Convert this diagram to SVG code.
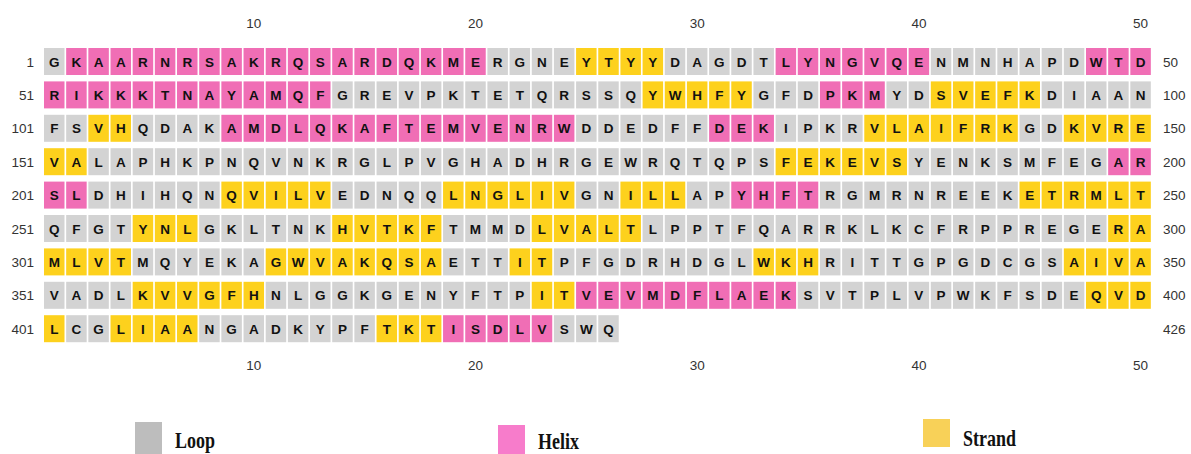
<svg xmlns="http://www.w3.org/2000/svg" width="1191" height="454" viewBox="0 0 1191 454">
<style>
.L rect{fill:#d3d3d3}.H rect{fill:#f06eb5}.E rect{fill:#fdd11d}
#grid text{font-family:"Liberation Sans",Arial,sans-serif;font-weight:bold;font-size:13.5px;fill:#111;text-anchor:middle}
.num{font-family:"Liberation Sans",Arial,sans-serif;font-size:13.5px;fill:#333;font-weight:normal}
.ln{text-anchor:end}.cn{text-anchor:middle}
.lg{font-family:"Liberation Serif","Times New Roman",serif;font-weight:bold;font-size:18px;fill:#111;text-anchor:start}
</style>
<rect width="1191" height="454" fill="#fff"/>
<g id="grid">
<g id="r1" class="L" transform="translate(44,48)"><rect width="20.5" height="27"/><text x="10.25" y="18.5">G</text></g>
<g id="r2" class="H" transform="translate(66.17,48)"><rect width="20.5" height="27"/><text x="10.25" y="18.5">K</text></g>
<g id="r3" class="H" transform="translate(88.34,48)"><rect width="20.5" height="27"/><text x="10.25" y="18.5">A</text></g>
<g id="r4" class="H" transform="translate(110.51,48)"><rect width="20.5" height="27"/><text x="10.25" y="18.5">A</text></g>
<g id="r5" class="H" transform="translate(132.68,48)"><rect width="20.5" height="27"/><text x="10.25" y="18.5">R</text></g>
<g id="r6" class="H" transform="translate(154.85,48)"><rect width="20.5" height="27"/><text x="10.25" y="18.5">N</text></g>
<g id="r7" class="H" transform="translate(177.02,48)"><rect width="20.5" height="27"/><text x="10.25" y="18.5">R</text></g>
<g id="r8" class="H" transform="translate(199.19,48)"><rect width="20.5" height="27"/><text x="10.25" y="18.5">S</text></g>
<g id="r9" class="H" transform="translate(221.36,48)"><rect width="20.5" height="27"/><text x="10.25" y="18.5">A</text></g>
<g id="r10" class="H" transform="translate(243.53,48)"><rect width="20.5" height="27"/><text x="10.25" y="18.5">K</text></g>
<g id="r11" class="H" transform="translate(265.7,48)"><rect width="20.5" height="27"/><text x="10.25" y="18.5">R</text></g>
<g id="r12" class="H" transform="translate(287.87,48)"><rect width="20.5" height="27"/><text x="10.25" y="18.5">Q</text></g>
<g id="r13" class="H" transform="translate(310.04,48)"><rect width="20.5" height="27"/><text x="10.25" y="18.5">S</text></g>
<g id="r14" class="H" transform="translate(332.21,48)"><rect width="20.5" height="27"/><text x="10.25" y="18.5">A</text></g>
<g id="r15" class="H" transform="translate(354.38,48)"><rect width="20.5" height="27"/><text x="10.25" y="18.5">R</text></g>
<g id="r16" class="H" transform="translate(376.55,48)"><rect width="20.5" height="27"/><text x="10.25" y="18.5">D</text></g>
<g id="r17" class="H" transform="translate(398.72,48)"><rect width="20.5" height="27"/><text x="10.25" y="18.5">Q</text></g>
<g id="r18" class="H" transform="translate(420.89,48)"><rect width="20.5" height="27"/><text x="10.25" y="18.5">K</text></g>
<g id="r19" class="H" transform="translate(443.06,48)"><rect width="20.5" height="27"/><text x="10.25" y="18.5">M</text></g>
<g id="r20" class="H" transform="translate(465.23,48)"><rect width="20.5" height="27"/><text x="10.25" y="18.5">E</text></g>
<g id="r21" class="L" transform="translate(487.4,48)"><rect width="20.5" height="27"/><text x="10.25" y="18.5">R</text></g>
<g id="r22" class="L" transform="translate(509.57,48)"><rect width="20.5" height="27"/><text x="10.25" y="18.5">G</text></g>
<g id="r23" class="L" transform="translate(531.74,48)"><rect width="20.5" height="27"/><text x="10.25" y="18.5">N</text></g>
<g id="r24" class="L" transform="translate(553.91,48)"><rect width="20.5" height="27"/><text x="10.25" y="18.5">E</text></g>
<g id="r25" class="E" transform="translate(576.08,48)"><rect width="20.5" height="27"/><text x="10.25" y="18.5">Y</text></g>
<g id="r26" class="E" transform="translate(598.25,48)"><rect width="20.5" height="27"/><text x="10.25" y="18.5">T</text></g>
<g id="r27" class="E" transform="translate(620.42,48)"><rect width="20.5" height="27"/><text x="10.25" y="18.5">Y</text></g>
<g id="r28" class="E" transform="translate(642.59,48)"><rect width="20.5" height="27"/><text x="10.25" y="18.5">Y</text></g>
<g id="r29" class="L" transform="translate(664.76,48)"><rect width="20.5" height="27"/><text x="10.25" y="18.5">D</text></g>
<g id="r30" class="L" transform="translate(686.93,48)"><rect width="20.5" height="27"/><text x="10.25" y="18.5">A</text></g>
<g id="r31" class="L" transform="translate(709.1,48)"><rect width="20.5" height="27"/><text x="10.25" y="18.5">G</text></g>
<g id="r32" class="L" transform="translate(731.27,48)"><rect width="20.5" height="27"/><text x="10.25" y="18.5">D</text></g>
<g id="r33" class="L" transform="translate(753.44,48)"><rect width="20.5" height="27"/><text x="10.25" y="18.5">T</text></g>
<g id="r34" class="H" transform="translate(775.61,48)"><rect width="20.5" height="27"/><text x="10.25" y="18.5">L</text></g>
<g id="r35" class="H" transform="translate(797.78,48)"><rect width="20.5" height="27"/><text x="10.25" y="18.5">Y</text></g>
<g id="r36" class="H" transform="translate(819.95,48)"><rect width="20.5" height="27"/><text x="10.25" y="18.5">N</text></g>
<g id="r37" class="H" transform="translate(842.12,48)"><rect width="20.5" height="27"/><text x="10.25" y="18.5">G</text></g>
<g id="r38" class="H" transform="translate(864.29,48)"><rect width="20.5" height="27"/><text x="10.25" y="18.5">V</text></g>
<g id="r39" class="H" transform="translate(886.46,48)"><rect width="20.5" height="27"/><text x="10.25" y="18.5">Q</text></g>
<g id="r40" class="H" transform="translate(908.63,48)"><rect width="20.5" height="27"/><text x="10.25" y="18.5">E</text></g>
<g id="r41" class="L" transform="translate(930.8,48)"><rect width="20.5" height="27"/><text x="10.25" y="18.5">N</text></g>
<g id="r42" class="L" transform="translate(952.97,48)"><rect width="20.5" height="27"/><text x="10.25" y="18.5">M</text></g>
<g id="r43" class="L" transform="translate(975.14,48)"><rect width="20.5" height="27"/><text x="10.25" y="18.5">N</text></g>
<g id="r44" class="L" transform="translate(997.31,48)"><rect width="20.5" height="27"/><text x="10.25" y="18.5">H</text></g>
<g id="r45" class="L" transform="translate(1019.48,48)"><rect width="20.5" height="27"/><text x="10.25" y="18.5">A</text></g>
<g id="r46" class="L" transform="translate(1041.65,48)"><rect width="20.5" height="27"/><text x="10.25" y="18.5">P</text></g>
<g id="r47" class="L" transform="translate(1063.82,48)"><rect width="20.5" height="27"/><text x="10.25" y="18.5">D</text></g>
<g id="r48" class="H" transform="translate(1085.99,48)"><rect width="20.5" height="27"/><text x="10.25" y="18.5">W</text></g>
<g id="r49" class="H" transform="translate(1108.16,48)"><rect width="20.5" height="27"/><text x="10.25" y="18.5">T</text></g>
<g id="r50" class="H" transform="translate(1130.33,48)"><rect width="20.5" height="27"/><text x="10.25" y="18.5">D</text></g>

<g id="r51" class="H" transform="translate(44,81.4)"><rect width="20.5" height="27"/><text x="10.25" y="18.5">R</text></g>
<g id="r52" class="H" transform="translate(66.17,81.4)"><rect width="20.5" height="27"/><text x="10.25" y="18.5">I</text></g>
<g id="r53" class="H" transform="translate(88.34,81.4)"><rect width="20.5" height="27"/><text x="10.25" y="18.5">K</text></g>
<g id="r54" class="H" transform="translate(110.51,81.4)"><rect width="20.5" height="27"/><text x="10.25" y="18.5">K</text></g>
<g id="r55" class="H" transform="translate(132.68,81.4)"><rect width="20.5" height="27"/><text x="10.25" y="18.5">K</text></g>
<g id="r56" class="H" transform="translate(154.85,81.4)"><rect width="20.5" height="27"/><text x="10.25" y="18.5">T</text></g>
<g id="r57" class="H" transform="translate(177.02,81.4)"><rect width="20.5" height="27"/><text x="10.25" y="18.5">N</text></g>
<g id="r58" class="H" transform="translate(199.19,81.4)"><rect width="20.5" height="27"/><text x="10.25" y="18.5">A</text></g>
<g id="r59" class="H" transform="translate(221.36,81.4)"><rect width="20.5" height="27"/><text x="10.25" y="18.5">Y</text></g>
<g id="r60" class="H" transform="translate(243.53,81.4)"><rect width="20.5" height="27"/><text x="10.25" y="18.5">A</text></g>
<g id="r61" class="H" transform="translate(265.7,81.4)"><rect width="20.5" height="27"/><text x="10.25" y="18.5">M</text></g>
<g id="r62" class="H" transform="translate(287.87,81.4)"><rect width="20.5" height="27"/><text x="10.25" y="18.5">Q</text></g>
<g id="r63" class="H" transform="translate(310.04,81.4)"><rect width="20.5" height="27"/><text x="10.25" y="18.5">F</text></g>
<g id="r64" class="L" transform="translate(332.21,81.4)"><rect width="20.5" height="27"/><text x="10.25" y="18.5">G</text></g>
<g id="r65" class="L" transform="translate(354.38,81.4)"><rect width="20.5" height="27"/><text x="10.25" y="18.5">R</text></g>
<g id="r66" class="L" transform="translate(376.55,81.4)"><rect width="20.5" height="27"/><text x="10.25" y="18.5">E</text></g>
<g id="r67" class="L" transform="translate(398.72,81.4)"><rect width="20.5" height="27"/><text x="10.25" y="18.5">V</text></g>
<g id="r68" class="L" transform="translate(420.89,81.4)"><rect width="20.5" height="27"/><text x="10.25" y="18.5">P</text></g>
<g id="r69" class="L" transform="translate(443.06,81.4)"><rect width="20.5" height="27"/><text x="10.25" y="18.5">K</text></g>
<g id="r70" class="L" transform="translate(465.23,81.4)"><rect width="20.5" height="27"/><text x="10.25" y="18.5">T</text></g>
<g id="r71" class="L" transform="translate(487.4,81.4)"><rect width="20.5" height="27"/><text x="10.25" y="18.5">E</text></g>
<g id="r72" class="L" transform="translate(509.57,81.4)"><rect width="20.5" height="27"/><text x="10.25" y="18.5">T</text></g>
<g id="r73" class="L" transform="translate(531.74,81.4)"><rect width="20.5" height="27"/><text x="10.25" y="18.5">Q</text></g>
<g id="r74" class="L" transform="translate(553.91,81.4)"><rect width="20.5" height="27"/><text x="10.25" y="18.5">R</text></g>
<g id="r75" class="L" transform="translate(576.08,81.4)"><rect width="20.5" height="27"/><text x="10.25" y="18.5">S</text></g>
<g id="r76" class="L" transform="translate(598.25,81.4)"><rect width="20.5" height="27"/><text x="10.25" y="18.5">S</text></g>
<g id="r77" class="L" transform="translate(620.42,81.4)"><rect width="20.5" height="27"/><text x="10.25" y="18.5">Q</text></g>
<g id="r78" class="E" transform="translate(642.59,81.4)"><rect width="20.5" height="27"/><text x="10.25" y="18.5">Y</text></g>
<g id="r79" class="E" transform="translate(664.76,81.4)"><rect width="20.5" height="27"/><text x="10.25" y="18.5">W</text></g>
<g id="r80" class="E" transform="translate(686.93,81.4)"><rect width="20.5" height="27"/><text x="10.25" y="18.5">H</text></g>
<g id="r81" class="E" transform="translate(709.1,81.4)"><rect width="20.5" height="27"/><text x="10.25" y="18.5">F</text></g>
<g id="r82" class="E" transform="translate(731.27,81.4)"><rect width="20.5" height="27"/><text x="10.25" y="18.5">Y</text></g>
<g id="r83" class="L" transform="translate(753.44,81.4)"><rect width="20.5" height="27"/><text x="10.25" y="18.5">G</text></g>
<g id="r84" class="L" transform="translate(775.61,81.4)"><rect width="20.5" height="27"/><text x="10.25" y="18.5">F</text></g>
<g id="r85" class="L" transform="translate(797.78,81.4)"><rect width="20.5" height="27"/><text x="10.25" y="18.5">D</text></g>
<g id="r86" class="H" transform="translate(819.95,81.4)"><rect width="20.5" height="27"/><text x="10.25" y="18.5">P</text></g>
<g id="r87" class="H" transform="translate(842.12,81.4)"><rect width="20.5" height="27"/><text x="10.25" y="18.5">K</text></g>
<g id="r88" class="H" transform="translate(864.29,81.4)"><rect width="20.5" height="27"/><text x="10.25" y="18.5">M</text></g>
<g id="r89" class="L" transform="translate(886.46,81.4)"><rect width="20.5" height="27"/><text x="10.25" y="18.5">Y</text></g>
<g id="r90" class="L" transform="translate(908.63,81.4)"><rect width="20.5" height="27"/><text x="10.25" y="18.5">D</text></g>
<g id="r91" class="E" transform="translate(930.8,81.4)"><rect width="20.5" height="27"/><text x="10.25" y="18.5">S</text></g>
<g id="r92" class="E" transform="translate(952.97,81.4)"><rect width="20.5" height="27"/><text x="10.25" y="18.5">V</text></g>
<g id="r93" class="E" transform="translate(975.14,81.4)"><rect width="20.5" height="27"/><text x="10.25" y="18.5">E</text></g>
<g id="r94" class="E" transform="translate(997.31,81.4)"><rect width="20.5" height="27"/><text x="10.25" y="18.5">F</text></g>
<g id="r95" class="E" transform="translate(1019.48,81.4)"><rect width="20.5" height="27"/><text x="10.25" y="18.5">K</text></g>
<g id="r96" class="L" transform="translate(1041.65,81.4)"><rect width="20.5" height="27"/><text x="10.25" y="18.5">D</text></g>
<g id="r97" class="L" transform="translate(1063.82,81.4)"><rect width="20.5" height="27"/><text x="10.25" y="18.5">I</text></g>
<g id="r98" class="L" transform="translate(1085.99,81.4)"><rect width="20.5" height="27"/><text x="10.25" y="18.5">A</text></g>
<g id="r99" class="L" transform="translate(1108.16,81.4)"><rect width="20.5" height="27"/><text x="10.25" y="18.5">A</text></g>
<g id="r100" class="L" transform="translate(1130.33,81.4)"><rect width="20.5" height="27"/><text x="10.25" y="18.5">N</text></g>

<g id="r101" class="L" transform="translate(44,114.8)"><rect width="20.5" height="27"/><text x="10.25" y="18.5">F</text></g>
<g id="r102" class="L" transform="translate(66.17,114.8)"><rect width="20.5" height="27"/><text x="10.25" y="18.5">S</text></g>
<g id="r103" class="E" transform="translate(88.34,114.8)"><rect width="20.5" height="27"/><text x="10.25" y="18.5">V</text></g>
<g id="r104" class="E" transform="translate(110.51,114.8)"><rect width="20.5" height="27"/><text x="10.25" y="18.5">H</text></g>
<g id="r105" class="L" transform="translate(132.68,114.8)"><rect width="20.5" height="27"/><text x="10.25" y="18.5">Q</text></g>
<g id="r106" class="L" transform="translate(154.85,114.8)"><rect width="20.5" height="27"/><text x="10.25" y="18.5">D</text></g>
<g id="r107" class="L" transform="translate(177.02,114.8)"><rect width="20.5" height="27"/><text x="10.25" y="18.5">A</text></g>
<g id="r108" class="L" transform="translate(199.19,114.8)"><rect width="20.5" height="27"/><text x="10.25" y="18.5">K</text></g>
<g id="r109" class="H" transform="translate(221.36,114.8)"><rect width="20.5" height="27"/><text x="10.25" y="18.5">A</text></g>
<g id="r110" class="H" transform="translate(243.53,114.8)"><rect width="20.5" height="27"/><text x="10.25" y="18.5">M</text></g>
<g id="r111" class="H" transform="translate(265.7,114.8)"><rect width="20.5" height="27"/><text x="10.25" y="18.5">D</text></g>
<g id="r112" class="H" transform="translate(287.87,114.8)"><rect width="20.5" height="27"/><text x="10.25" y="18.5">L</text></g>
<g id="r113" class="H" transform="translate(310.04,114.8)"><rect width="20.5" height="27"/><text x="10.25" y="18.5">Q</text></g>
<g id="r114" class="H" transform="translate(332.21,114.8)"><rect width="20.5" height="27"/><text x="10.25" y="18.5">K</text></g>
<g id="r115" class="H" transform="translate(354.38,114.8)"><rect width="20.5" height="27"/><text x="10.25" y="18.5">A</text></g>
<g id="r116" class="H" transform="translate(376.55,114.8)"><rect width="20.5" height="27"/><text x="10.25" y="18.5">F</text></g>
<g id="r117" class="H" transform="translate(398.72,114.8)"><rect width="20.5" height="27"/><text x="10.25" y="18.5">T</text></g>
<g id="r118" class="H" transform="translate(420.89,114.8)"><rect width="20.5" height="27"/><text x="10.25" y="18.5">E</text></g>
<g id="r119" class="H" transform="translate(443.06,114.8)"><rect width="20.5" height="27"/><text x="10.25" y="18.5">M</text></g>
<g id="r120" class="H" transform="translate(465.23,114.8)"><rect width="20.5" height="27"/><text x="10.25" y="18.5">V</text></g>
<g id="r121" class="H" transform="translate(487.4,114.8)"><rect width="20.5" height="27"/><text x="10.25" y="18.5">E</text></g>
<g id="r122" class="H" transform="translate(509.57,114.8)"><rect width="20.5" height="27"/><text x="10.25" y="18.5">N</text></g>
<g id="r123" class="H" transform="translate(531.74,114.8)"><rect width="20.5" height="27"/><text x="10.25" y="18.5">R</text></g>
<g id="r124" class="H" transform="translate(553.91,114.8)"><rect width="20.5" height="27"/><text x="10.25" y="18.5">W</text></g>
<g id="r125" class="L" transform="translate(576.08,114.8)"><rect width="20.5" height="27"/><text x="10.25" y="18.5">D</text></g>
<g id="r126" class="L" transform="translate(598.25,114.8)"><rect width="20.5" height="27"/><text x="10.25" y="18.5">D</text></g>
<g id="r127" class="L" transform="translate(620.42,114.8)"><rect width="20.5" height="27"/><text x="10.25" y="18.5">E</text></g>
<g id="r128" class="L" transform="translate(642.59,114.8)"><rect width="20.5" height="27"/><text x="10.25" y="18.5">D</text></g>
<g id="r129" class="L" transform="translate(664.76,114.8)"><rect width="20.5" height="27"/><text x="10.25" y="18.5">F</text></g>
<g id="r130" class="L" transform="translate(686.93,114.8)"><rect width="20.5" height="27"/><text x="10.25" y="18.5">F</text></g>
<g id="r131" class="H" transform="translate(709.1,114.8)"><rect width="20.5" height="27"/><text x="10.25" y="18.5">D</text></g>
<g id="r132" class="H" transform="translate(731.27,114.8)"><rect width="20.5" height="27"/><text x="10.25" y="18.5">E</text></g>
<g id="r133" class="H" transform="translate(753.44,114.8)"><rect width="20.5" height="27"/><text x="10.25" y="18.5">K</text></g>
<g id="r134" class="L" transform="translate(775.61,114.8)"><rect width="20.5" height="27"/><text x="10.25" y="18.5">I</text></g>
<g id="r135" class="L" transform="translate(797.78,114.8)"><rect width="20.5" height="27"/><text x="10.25" y="18.5">P</text></g>
<g id="r136" class="L" transform="translate(819.95,114.8)"><rect width="20.5" height="27"/><text x="10.25" y="18.5">K</text></g>
<g id="r137" class="L" transform="translate(842.12,114.8)"><rect width="20.5" height="27"/><text x="10.25" y="18.5">R</text></g>
<g id="r138" class="E" transform="translate(864.29,114.8)"><rect width="20.5" height="27"/><text x="10.25" y="18.5">V</text></g>
<g id="r139" class="E" transform="translate(886.46,114.8)"><rect width="20.5" height="27"/><text x="10.25" y="18.5">L</text></g>
<g id="r140" class="E" transform="translate(908.63,114.8)"><rect width="20.5" height="27"/><text x="10.25" y="18.5">A</text></g>
<g id="r141" class="E" transform="translate(930.8,114.8)"><rect width="20.5" height="27"/><text x="10.25" y="18.5">I</text></g>
<g id="r142" class="E" transform="translate(952.97,114.8)"><rect width="20.5" height="27"/><text x="10.25" y="18.5">F</text></g>
<g id="r143" class="E" transform="translate(975.14,114.8)"><rect width="20.5" height="27"/><text x="10.25" y="18.5">R</text></g>
<g id="r144" class="E" transform="translate(997.31,114.8)"><rect width="20.5" height="27"/><text x="10.25" y="18.5">K</text></g>
<g id="r145" class="L" transform="translate(1019.48,114.8)"><rect width="20.5" height="27"/><text x="10.25" y="18.5">G</text></g>
<g id="r146" class="L" transform="translate(1041.65,114.8)"><rect width="20.5" height="27"/><text x="10.25" y="18.5">D</text></g>
<g id="r147" class="E" transform="translate(1063.82,114.8)"><rect width="20.5" height="27"/><text x="10.25" y="18.5">K</text></g>
<g id="r148" class="E" transform="translate(1085.99,114.8)"><rect width="20.5" height="27"/><text x="10.25" y="18.5">V</text></g>
<g id="r149" class="E" transform="translate(1108.16,114.8)"><rect width="20.5" height="27"/><text x="10.25" y="18.5">R</text></g>
<g id="r150" class="E" transform="translate(1130.33,114.8)"><rect width="20.5" height="27"/><text x="10.25" y="18.5">E</text></g>

<g id="r151" class="E" transform="translate(44,148.2)"><rect width="20.5" height="27"/><text x="10.25" y="18.5">V</text></g>
<g id="r152" class="E" transform="translate(66.17,148.2)"><rect width="20.5" height="27"/><text x="10.25" y="18.5">A</text></g>
<g id="r153" class="L" transform="translate(88.34,148.2)"><rect width="20.5" height="27"/><text x="10.25" y="18.5">L</text></g>
<g id="r154" class="L" transform="translate(110.51,148.2)"><rect width="20.5" height="27"/><text x="10.25" y="18.5">A</text></g>
<g id="r155" class="L" transform="translate(132.68,148.2)"><rect width="20.5" height="27"/><text x="10.25" y="18.5">P</text></g>
<g id="r156" class="L" transform="translate(154.85,148.2)"><rect width="20.5" height="27"/><text x="10.25" y="18.5">H</text></g>
<g id="r157" class="L" transform="translate(177.02,148.2)"><rect width="20.5" height="27"/><text x="10.25" y="18.5">K</text></g>
<g id="r158" class="L" transform="translate(199.19,148.2)"><rect width="20.5" height="27"/><text x="10.25" y="18.5">P</text></g>
<g id="r159" class="L" transform="translate(221.36,148.2)"><rect width="20.5" height="27"/><text x="10.25" y="18.5">N</text></g>
<g id="r160" class="L" transform="translate(243.53,148.2)"><rect width="20.5" height="27"/><text x="10.25" y="18.5">Q</text></g>
<g id="r161" class="L" transform="translate(265.7,148.2)"><rect width="20.5" height="27"/><text x="10.25" y="18.5">V</text></g>
<g id="r162" class="L" transform="translate(287.87,148.2)"><rect width="20.5" height="27"/><text x="10.25" y="18.5">N</text></g>
<g id="r163" class="L" transform="translate(310.04,148.2)"><rect width="20.5" height="27"/><text x="10.25" y="18.5">K</text></g>
<g id="r164" class="L" transform="translate(332.21,148.2)"><rect width="20.5" height="27"/><text x="10.25" y="18.5">R</text></g>
<g id="r165" class="L" transform="translate(354.38,148.2)"><rect width="20.5" height="27"/><text x="10.25" y="18.5">G</text></g>
<g id="r166" class="L" transform="translate(376.55,148.2)"><rect width="20.5" height="27"/><text x="10.25" y="18.5">L</text></g>
<g id="r167" class="L" transform="translate(398.72,148.2)"><rect width="20.5" height="27"/><text x="10.25" y="18.5">P</text></g>
<g id="r168" class="L" transform="translate(420.89,148.2)"><rect width="20.5" height="27"/><text x="10.25" y="18.5">V</text></g>
<g id="r169" class="L" transform="translate(443.06,148.2)"><rect width="20.5" height="27"/><text x="10.25" y="18.5">G</text></g>
<g id="r170" class="L" transform="translate(465.23,148.2)"><rect width="20.5" height="27"/><text x="10.25" y="18.5">H</text></g>
<g id="r171" class="L" transform="translate(487.4,148.2)"><rect width="20.5" height="27"/><text x="10.25" y="18.5">A</text></g>
<g id="r172" class="L" transform="translate(509.57,148.2)"><rect width="20.5" height="27"/><text x="10.25" y="18.5">D</text></g>
<g id="r173" class="L" transform="translate(531.74,148.2)"><rect width="20.5" height="27"/><text x="10.25" y="18.5">H</text></g>
<g id="r174" class="L" transform="translate(553.91,148.2)"><rect width="20.5" height="27"/><text x="10.25" y="18.5">R</text></g>
<g id="r175" class="L" transform="translate(576.08,148.2)"><rect width="20.5" height="27"/><text x="10.25" y="18.5">G</text></g>
<g id="r176" class="L" transform="translate(598.25,148.2)"><rect width="20.5" height="27"/><text x="10.25" y="18.5">E</text></g>
<g id="r177" class="L" transform="translate(620.42,148.2)"><rect width="20.5" height="27"/><text x="10.25" y="18.5">W</text></g>
<g id="r178" class="L" transform="translate(642.59,148.2)"><rect width="20.5" height="27"/><text x="10.25" y="18.5">R</text></g>
<g id="r179" class="L" transform="translate(664.76,148.2)"><rect width="20.5" height="27"/><text x="10.25" y="18.5">Q</text></g>
<g id="r180" class="L" transform="translate(686.93,148.2)"><rect width="20.5" height="27"/><text x="10.25" y="18.5">T</text></g>
<g id="r181" class="L" transform="translate(709.1,148.2)"><rect width="20.5" height="27"/><text x="10.25" y="18.5">Q</text></g>
<g id="r182" class="L" transform="translate(731.27,148.2)"><rect width="20.5" height="27"/><text x="10.25" y="18.5">P</text></g>
<g id="r183" class="L" transform="translate(753.44,148.2)"><rect width="20.5" height="27"/><text x="10.25" y="18.5">S</text></g>
<g id="r184" class="E" transform="translate(775.61,148.2)"><rect width="20.5" height="27"/><text x="10.25" y="18.5">F</text></g>
<g id="r185" class="E" transform="translate(797.78,148.2)"><rect width="20.5" height="27"/><text x="10.25" y="18.5">E</text></g>
<g id="r186" class="E" transform="translate(819.95,148.2)"><rect width="20.5" height="27"/><text x="10.25" y="18.5">K</text></g>
<g id="r187" class="E" transform="translate(842.12,148.2)"><rect width="20.5" height="27"/><text x="10.25" y="18.5">E</text></g>
<g id="r188" class="E" transform="translate(864.29,148.2)"><rect width="20.5" height="27"/><text x="10.25" y="18.5">V</text></g>
<g id="r189" class="E" transform="translate(886.46,148.2)"><rect width="20.5" height="27"/><text x="10.25" y="18.5">S</text></g>
<g id="r190" class="L" transform="translate(908.63,148.2)"><rect width="20.5" height="27"/><text x="10.25" y="18.5">Y</text></g>
<g id="r191" class="L" transform="translate(930.8,148.2)"><rect width="20.5" height="27"/><text x="10.25" y="18.5">E</text></g>
<g id="r192" class="L" transform="translate(952.97,148.2)"><rect width="20.5" height="27"/><text x="10.25" y="18.5">N</text></g>
<g id="r193" class="L" transform="translate(975.14,148.2)"><rect width="20.5" height="27"/><text x="10.25" y="18.5">K</text></g>
<g id="r194" class="L" transform="translate(997.31,148.2)"><rect width="20.5" height="27"/><text x="10.25" y="18.5">S</text></g>
<g id="r195" class="L" transform="translate(1019.48,148.2)"><rect width="20.5" height="27"/><text x="10.25" y="18.5">M</text></g>
<g id="r196" class="L" transform="translate(1041.65,148.2)"><rect width="20.5" height="27"/><text x="10.25" y="18.5">F</text></g>
<g id="r197" class="L" transform="translate(1063.82,148.2)"><rect width="20.5" height="27"/><text x="10.25" y="18.5">E</text></g>
<g id="r198" class="L" transform="translate(1085.99,148.2)"><rect width="20.5" height="27"/><text x="10.25" y="18.5">G</text></g>
<g id="r199" class="H" transform="translate(1108.16,148.2)"><rect width="20.5" height="27"/><text x="10.25" y="18.5">A</text></g>
<g id="r200" class="H" transform="translate(1130.33,148.2)"><rect width="20.5" height="27"/><text x="10.25" y="18.5">R</text></g>

<g id="r201" class="H" transform="translate(44,181.6)"><rect width="20.5" height="27"/><text x="10.25" y="18.5">S</text></g>
<g id="r202" class="H" transform="translate(66.17,181.6)"><rect width="20.5" height="27"/><text x="10.25" y="18.5">L</text></g>
<g id="r203" class="L" transform="translate(88.34,181.6)"><rect width="20.5" height="27"/><text x="10.25" y="18.5">D</text></g>
<g id="r204" class="L" transform="translate(110.51,181.6)"><rect width="20.5" height="27"/><text x="10.25" y="18.5">H</text></g>
<g id="r205" class="L" transform="translate(132.68,181.6)"><rect width="20.5" height="27"/><text x="10.25" y="18.5">I</text></g>
<g id="r206" class="L" transform="translate(154.85,181.6)"><rect width="20.5" height="27"/><text x="10.25" y="18.5">H</text></g>
<g id="r207" class="L" transform="translate(177.02,181.6)"><rect width="20.5" height="27"/><text x="10.25" y="18.5">Q</text></g>
<g id="r208" class="L" transform="translate(199.19,181.6)"><rect width="20.5" height="27"/><text x="10.25" y="18.5">N</text></g>
<g id="r209" class="E" transform="translate(221.36,181.6)"><rect width="20.5" height="27"/><text x="10.25" y="18.5">Q</text></g>
<g id="r210" class="E" transform="translate(243.53,181.6)"><rect width="20.5" height="27"/><text x="10.25" y="18.5">V</text></g>
<g id="r211" class="E" transform="translate(265.7,181.6)"><rect width="20.5" height="27"/><text x="10.25" y="18.5">I</text></g>
<g id="r212" class="E" transform="translate(287.87,181.6)"><rect width="20.5" height="27"/><text x="10.25" y="18.5">L</text></g>
<g id="r213" class="E" transform="translate(310.04,181.6)"><rect width="20.5" height="27"/><text x="10.25" y="18.5">V</text></g>
<g id="r214" class="L" transform="translate(332.21,181.6)"><rect width="20.5" height="27"/><text x="10.25" y="18.5">E</text></g>
<g id="r215" class="L" transform="translate(354.38,181.6)"><rect width="20.5" height="27"/><text x="10.25" y="18.5">D</text></g>
<g id="r216" class="L" transform="translate(376.55,181.6)"><rect width="20.5" height="27"/><text x="10.25" y="18.5">N</text></g>
<g id="r217" class="L" transform="translate(398.72,181.6)"><rect width="20.5" height="27"/><text x="10.25" y="18.5">Q</text></g>
<g id="r218" class="L" transform="translate(420.89,181.6)"><rect width="20.5" height="27"/><text x="10.25" y="18.5">Q</text></g>
<g id="r219" class="E" transform="translate(443.06,181.6)"><rect width="20.5" height="27"/><text x="10.25" y="18.5">L</text></g>
<g id="r220" class="E" transform="translate(465.23,181.6)"><rect width="20.5" height="27"/><text x="10.25" y="18.5">N</text></g>
<g id="r221" class="E" transform="translate(487.4,181.6)"><rect width="20.5" height="27"/><text x="10.25" y="18.5">G</text></g>
<g id="r222" class="E" transform="translate(509.57,181.6)"><rect width="20.5" height="27"/><text x="10.25" y="18.5">L</text></g>
<g id="r223" class="E" transform="translate(531.74,181.6)"><rect width="20.5" height="27"/><text x="10.25" y="18.5">I</text></g>
<g id="r224" class="E" transform="translate(553.91,181.6)"><rect width="20.5" height="27"/><text x="10.25" y="18.5">V</text></g>
<g id="r225" class="L" transform="translate(576.08,181.6)"><rect width="20.5" height="27"/><text x="10.25" y="18.5">G</text></g>
<g id="r226" class="L" transform="translate(598.25,181.6)"><rect width="20.5" height="27"/><text x="10.25" y="18.5">N</text></g>
<g id="r227" class="E" transform="translate(620.42,181.6)"><rect width="20.5" height="27"/><text x="10.25" y="18.5">I</text></g>
<g id="r228" class="E" transform="translate(642.59,181.6)"><rect width="20.5" height="27"/><text x="10.25" y="18.5">L</text></g>
<g id="r229" class="E" transform="translate(664.76,181.6)"><rect width="20.5" height="27"/><text x="10.25" y="18.5">L</text></g>
<g id="r230" class="L" transform="translate(686.93,181.6)"><rect width="20.5" height="27"/><text x="10.25" y="18.5">A</text></g>
<g id="r231" class="L" transform="translate(709.1,181.6)"><rect width="20.5" height="27"/><text x="10.25" y="18.5">P</text></g>
<g id="r232" class="H" transform="translate(731.27,181.6)"><rect width="20.5" height="27"/><text x="10.25" y="18.5">Y</text></g>
<g id="r233" class="H" transform="translate(753.44,181.6)"><rect width="20.5" height="27"/><text x="10.25" y="18.5">H</text></g>
<g id="r234" class="H" transform="translate(775.61,181.6)"><rect width="20.5" height="27"/><text x="10.25" y="18.5">F</text></g>
<g id="r235" class="H" transform="translate(797.78,181.6)"><rect width="20.5" height="27"/><text x="10.25" y="18.5">T</text></g>
<g id="r236" class="L" transform="translate(819.95,181.6)"><rect width="20.5" height="27"/><text x="10.25" y="18.5">R</text></g>
<g id="r237" class="L" transform="translate(842.12,181.6)"><rect width="20.5" height="27"/><text x="10.25" y="18.5">G</text></g>
<g id="r238" class="L" transform="translate(864.29,181.6)"><rect width="20.5" height="27"/><text x="10.25" y="18.5">M</text></g>
<g id="r239" class="L" transform="translate(886.46,181.6)"><rect width="20.5" height="27"/><text x="10.25" y="18.5">R</text></g>
<g id="r240" class="L" transform="translate(908.63,181.6)"><rect width="20.5" height="27"/><text x="10.25" y="18.5">N</text></g>
<g id="r241" class="L" transform="translate(930.8,181.6)"><rect width="20.5" height="27"/><text x="10.25" y="18.5">R</text></g>
<g id="r242" class="L" transform="translate(952.97,181.6)"><rect width="20.5" height="27"/><text x="10.25" y="18.5">E</text></g>
<g id="r243" class="L" transform="translate(975.14,181.6)"><rect width="20.5" height="27"/><text x="10.25" y="18.5">E</text></g>
<g id="r244" class="L" transform="translate(997.31,181.6)"><rect width="20.5" height="27"/><text x="10.25" y="18.5">K</text></g>
<g id="r245" class="E" transform="translate(1019.48,181.6)"><rect width="20.5" height="27"/><text x="10.25" y="18.5">E</text></g>
<g id="r246" class="E" transform="translate(1041.65,181.6)"><rect width="20.5" height="27"/><text x="10.25" y="18.5">T</text></g>
<g id="r247" class="E" transform="translate(1063.82,181.6)"><rect width="20.5" height="27"/><text x="10.25" y="18.5">R</text></g>
<g id="r248" class="E" transform="translate(1085.99,181.6)"><rect width="20.5" height="27"/><text x="10.25" y="18.5">M</text></g>
<g id="r249" class="E" transform="translate(1108.16,181.6)"><rect width="20.5" height="27"/><text x="10.25" y="18.5">L</text></g>
<g id="r250" class="E" transform="translate(1130.33,181.6)"><rect width="20.5" height="27"/><text x="10.25" y="18.5">T</text></g>

<g id="r251" class="L" transform="translate(44,215)"><rect width="20.5" height="27"/><text x="10.25" y="18.5">Q</text></g>
<g id="r252" class="L" transform="translate(66.17,215)"><rect width="20.5" height="27"/><text x="10.25" y="18.5">F</text></g>
<g id="r253" class="L" transform="translate(88.34,215)"><rect width="20.5" height="27"/><text x="10.25" y="18.5">G</text></g>
<g id="r254" class="L" transform="translate(110.51,215)"><rect width="20.5" height="27"/><text x="10.25" y="18.5">T</text></g>
<g id="r255" class="E" transform="translate(132.68,215)"><rect width="20.5" height="27"/><text x="10.25" y="18.5">Y</text></g>
<g id="r256" class="E" transform="translate(154.85,215)"><rect width="20.5" height="27"/><text x="10.25" y="18.5">N</text></g>
<g id="r257" class="E" transform="translate(177.02,215)"><rect width="20.5" height="27"/><text x="10.25" y="18.5">L</text></g>
<g id="r258" class="L" transform="translate(199.19,215)"><rect width="20.5" height="27"/><text x="10.25" y="18.5">G</text></g>
<g id="r259" class="L" transform="translate(221.36,215)"><rect width="20.5" height="27"/><text x="10.25" y="18.5">K</text></g>
<g id="r260" class="L" transform="translate(243.53,215)"><rect width="20.5" height="27"/><text x="10.25" y="18.5">L</text></g>
<g id="r261" class="L" transform="translate(265.7,215)"><rect width="20.5" height="27"/><text x="10.25" y="18.5">T</text></g>
<g id="r262" class="L" transform="translate(287.87,215)"><rect width="20.5" height="27"/><text x="10.25" y="18.5">N</text></g>
<g id="r263" class="L" transform="translate(310.04,215)"><rect width="20.5" height="27"/><text x="10.25" y="18.5">K</text></g>
<g id="r264" class="E" transform="translate(332.21,215)"><rect width="20.5" height="27"/><text x="10.25" y="18.5">H</text></g>
<g id="r265" class="E" transform="translate(354.38,215)"><rect width="20.5" height="27"/><text x="10.25" y="18.5">V</text></g>
<g id="r266" class="E" transform="translate(376.55,215)"><rect width="20.5" height="27"/><text x="10.25" y="18.5">T</text></g>
<g id="r267" class="E" transform="translate(398.72,215)"><rect width="20.5" height="27"/><text x="10.25" y="18.5">K</text></g>
<g id="r268" class="E" transform="translate(420.89,215)"><rect width="20.5" height="27"/><text x="10.25" y="18.5">F</text></g>
<g id="r269" class="L" transform="translate(443.06,215)"><rect width="20.5" height="27"/><text x="10.25" y="18.5">T</text></g>
<g id="r270" class="L" transform="translate(465.23,215)"><rect width="20.5" height="27"/><text x="10.25" y="18.5">M</text></g>
<g id="r271" class="L" transform="translate(487.4,215)"><rect width="20.5" height="27"/><text x="10.25" y="18.5">M</text></g>
<g id="r272" class="L" transform="translate(509.57,215)"><rect width="20.5" height="27"/><text x="10.25" y="18.5">D</text></g>
<g id="r273" class="E" transform="translate(531.74,215)"><rect width="20.5" height="27"/><text x="10.25" y="18.5">L</text></g>
<g id="r274" class="E" transform="translate(553.91,215)"><rect width="20.5" height="27"/><text x="10.25" y="18.5">V</text></g>
<g id="r275" class="E" transform="translate(576.08,215)"><rect width="20.5" height="27"/><text x="10.25" y="18.5">A</text></g>
<g id="r276" class="E" transform="translate(598.25,215)"><rect width="20.5" height="27"/><text x="10.25" y="18.5">L</text></g>
<g id="r277" class="E" transform="translate(620.42,215)"><rect width="20.5" height="27"/><text x="10.25" y="18.5">T</text></g>
<g id="r278" class="L" transform="translate(642.59,215)"><rect width="20.5" height="27"/><text x="10.25" y="18.5">L</text></g>
<g id="r279" class="L" transform="translate(664.76,215)"><rect width="20.5" height="27"/><text x="10.25" y="18.5">P</text></g>
<g id="r280" class="L" transform="translate(686.93,215)"><rect width="20.5" height="27"/><text x="10.25" y="18.5">P</text></g>
<g id="r281" class="L" transform="translate(709.1,215)"><rect width="20.5" height="27"/><text x="10.25" y="18.5">T</text></g>
<g id="r282" class="L" transform="translate(731.27,215)"><rect width="20.5" height="27"/><text x="10.25" y="18.5">F</text></g>
<g id="r283" class="L" transform="translate(753.44,215)"><rect width="20.5" height="27"/><text x="10.25" y="18.5">Q</text></g>
<g id="r284" class="L" transform="translate(775.61,215)"><rect width="20.5" height="27"/><text x="10.25" y="18.5">A</text></g>
<g id="r285" class="L" transform="translate(797.78,215)"><rect width="20.5" height="27"/><text x="10.25" y="18.5">R</text></g>
<g id="r286" class="L" transform="translate(819.95,215)"><rect width="20.5" height="27"/><text x="10.25" y="18.5">R</text></g>
<g id="r287" class="L" transform="translate(842.12,215)"><rect width="20.5" height="27"/><text x="10.25" y="18.5">K</text></g>
<g id="r288" class="L" transform="translate(864.29,215)"><rect width="20.5" height="27"/><text x="10.25" y="18.5">L</text></g>
<g id="r289" class="L" transform="translate(886.46,215)"><rect width="20.5" height="27"/><text x="10.25" y="18.5">K</text></g>
<g id="r290" class="L" transform="translate(908.63,215)"><rect width="20.5" height="27"/><text x="10.25" y="18.5">C</text></g>
<g id="r291" class="L" transform="translate(930.8,215)"><rect width="20.5" height="27"/><text x="10.25" y="18.5">F</text></g>
<g id="r292" class="L" transform="translate(952.97,215)"><rect width="20.5" height="27"/><text x="10.25" y="18.5">R</text></g>
<g id="r293" class="L" transform="translate(975.14,215)"><rect width="20.5" height="27"/><text x="10.25" y="18.5">P</text></g>
<g id="r294" class="L" transform="translate(997.31,215)"><rect width="20.5" height="27"/><text x="10.25" y="18.5">P</text></g>
<g id="r295" class="L" transform="translate(1019.48,215)"><rect width="20.5" height="27"/><text x="10.25" y="18.5">R</text></g>
<g id="r296" class="L" transform="translate(1041.65,215)"><rect width="20.5" height="27"/><text x="10.25" y="18.5">E</text></g>
<g id="r297" class="L" transform="translate(1063.82,215)"><rect width="20.5" height="27"/><text x="10.25" y="18.5">G</text></g>
<g id="r298" class="L" transform="translate(1085.99,215)"><rect width="20.5" height="27"/><text x="10.25" y="18.5">E</text></g>
<g id="r299" class="E" transform="translate(1108.16,215)"><rect width="20.5" height="27"/><text x="10.25" y="18.5">R</text></g>
<g id="r300" class="E" transform="translate(1130.33,215)"><rect width="20.5" height="27"/><text x="10.25" y="18.5">A</text></g>

<g id="r301" class="E" transform="translate(44,248.4)"><rect width="20.5" height="27"/><text x="10.25" y="18.5">M</text></g>
<g id="r302" class="E" transform="translate(66.17,248.4)"><rect width="20.5" height="27"/><text x="10.25" y="18.5">L</text></g>
<g id="r303" class="E" transform="translate(88.34,248.4)"><rect width="20.5" height="27"/><text x="10.25" y="18.5">V</text></g>
<g id="r304" class="E" transform="translate(110.51,248.4)"><rect width="20.5" height="27"/><text x="10.25" y="18.5">T</text></g>
<g id="r305" class="L" transform="translate(132.68,248.4)"><rect width="20.5" height="27"/><text x="10.25" y="18.5">M</text></g>
<g id="r306" class="L" transform="translate(154.85,248.4)"><rect width="20.5" height="27"/><text x="10.25" y="18.5">Q</text></g>
<g id="r307" class="L" transform="translate(177.02,248.4)"><rect width="20.5" height="27"/><text x="10.25" y="18.5">Y</text></g>
<g id="r308" class="L" transform="translate(199.19,248.4)"><rect width="20.5" height="27"/><text x="10.25" y="18.5">E</text></g>
<g id="r309" class="L" transform="translate(221.36,248.4)"><rect width="20.5" height="27"/><text x="10.25" y="18.5">K</text></g>
<g id="r310" class="L" transform="translate(243.53,248.4)"><rect width="20.5" height="27"/><text x="10.25" y="18.5">A</text></g>
<g id="r311" class="E" transform="translate(265.7,248.4)"><rect width="20.5" height="27"/><text x="10.25" y="18.5">G</text></g>
<g id="r312" class="E" transform="translate(287.87,248.4)"><rect width="20.5" height="27"/><text x="10.25" y="18.5">W</text></g>
<g id="r313" class="E" transform="translate(310.04,248.4)"><rect width="20.5" height="27"/><text x="10.25" y="18.5">V</text></g>
<g id="r314" class="E" transform="translate(332.21,248.4)"><rect width="20.5" height="27"/><text x="10.25" y="18.5">A</text></g>
<g id="r315" class="E" transform="translate(354.38,248.4)"><rect width="20.5" height="27"/><text x="10.25" y="18.5">K</text></g>
<g id="r316" class="E" transform="translate(376.55,248.4)"><rect width="20.5" height="27"/><text x="10.25" y="18.5">Q</text></g>
<g id="r317" class="E" transform="translate(398.72,248.4)"><rect width="20.5" height="27"/><text x="10.25" y="18.5">S</text></g>
<g id="r318" class="E" transform="translate(420.89,248.4)"><rect width="20.5" height="27"/><text x="10.25" y="18.5">A</text></g>
<g id="r319" class="L" transform="translate(443.06,248.4)"><rect width="20.5" height="27"/><text x="10.25" y="18.5">E</text></g>
<g id="r320" class="L" transform="translate(465.23,248.4)"><rect width="20.5" height="27"/><text x="10.25" y="18.5">T</text></g>
<g id="r321" class="L" transform="translate(487.4,248.4)"><rect width="20.5" height="27"/><text x="10.25" y="18.5">T</text></g>
<g id="r322" class="E" transform="translate(509.57,248.4)"><rect width="20.5" height="27"/><text x="10.25" y="18.5">I</text></g>
<g id="r323" class="E" transform="translate(531.74,248.4)"><rect width="20.5" height="27"/><text x="10.25" y="18.5">T</text></g>
<g id="r324" class="L" transform="translate(553.91,248.4)"><rect width="20.5" height="27"/><text x="10.25" y="18.5">P</text></g>
<g id="r325" class="L" transform="translate(576.08,248.4)"><rect width="20.5" height="27"/><text x="10.25" y="18.5">F</text></g>
<g id="r326" class="L" transform="translate(598.25,248.4)"><rect width="20.5" height="27"/><text x="10.25" y="18.5">G</text></g>
<g id="r327" class="L" transform="translate(620.42,248.4)"><rect width="20.5" height="27"/><text x="10.25" y="18.5">D</text></g>
<g id="r328" class="L" transform="translate(642.59,248.4)"><rect width="20.5" height="27"/><text x="10.25" y="18.5">R</text></g>
<g id="r329" class="L" transform="translate(664.76,248.4)"><rect width="20.5" height="27"/><text x="10.25" y="18.5">H</text></g>
<g id="r330" class="L" transform="translate(686.93,248.4)"><rect width="20.5" height="27"/><text x="10.25" y="18.5">D</text></g>
<g id="r331" class="L" transform="translate(709.1,248.4)"><rect width="20.5" height="27"/><text x="10.25" y="18.5">G</text></g>
<g id="r332" class="L" transform="translate(731.27,248.4)"><rect width="20.5" height="27"/><text x="10.25" y="18.5">L</text></g>
<g id="r333" class="E" transform="translate(753.44,248.4)"><rect width="20.5" height="27"/><text x="10.25" y="18.5">W</text></g>
<g id="r334" class="E" transform="translate(775.61,248.4)"><rect width="20.5" height="27"/><text x="10.25" y="18.5">K</text></g>
<g id="r335" class="E" transform="translate(797.78,248.4)"><rect width="20.5" height="27"/><text x="10.25" y="18.5">H</text></g>
<g id="r336" class="L" transform="translate(819.95,248.4)"><rect width="20.5" height="27"/><text x="10.25" y="18.5">R</text></g>
<g id="r337" class="L" transform="translate(842.12,248.4)"><rect width="20.5" height="27"/><text x="10.25" y="18.5">I</text></g>
<g id="r338" class="L" transform="translate(864.29,248.4)"><rect width="20.5" height="27"/><text x="10.25" y="18.5">T</text></g>
<g id="r339" class="L" transform="translate(886.46,248.4)"><rect width="20.5" height="27"/><text x="10.25" y="18.5">T</text></g>
<g id="r340" class="L" transform="translate(908.63,248.4)"><rect width="20.5" height="27"/><text x="10.25" y="18.5">G</text></g>
<g id="r341" class="L" transform="translate(930.8,248.4)"><rect width="20.5" height="27"/><text x="10.25" y="18.5">P</text></g>
<g id="r342" class="L" transform="translate(952.97,248.4)"><rect width="20.5" height="27"/><text x="10.25" y="18.5">G</text></g>
<g id="r343" class="L" transform="translate(975.14,248.4)"><rect width="20.5" height="27"/><text x="10.25" y="18.5">D</text></g>
<g id="r344" class="L" transform="translate(997.31,248.4)"><rect width="20.5" height="27"/><text x="10.25" y="18.5">C</text></g>
<g id="r345" class="L" transform="translate(1019.48,248.4)"><rect width="20.5" height="27"/><text x="10.25" y="18.5">G</text></g>
<g id="r346" class="L" transform="translate(1041.65,248.4)"><rect width="20.5" height="27"/><text x="10.25" y="18.5">S</text></g>
<g id="r347" class="E" transform="translate(1063.82,248.4)"><rect width="20.5" height="27"/><text x="10.25" y="18.5">A</text></g>
<g id="r348" class="E" transform="translate(1085.99,248.4)"><rect width="20.5" height="27"/><text x="10.25" y="18.5">I</text></g>
<g id="r349" class="E" transform="translate(1108.16,248.4)"><rect width="20.5" height="27"/><text x="10.25" y="18.5">V</text></g>
<g id="r350" class="E" transform="translate(1130.33,248.4)"><rect width="20.5" height="27"/><text x="10.25" y="18.5">A</text></g>

<g id="r351" class="L" transform="translate(44,281.8)"><rect width="20.5" height="27"/><text x="10.25" y="18.5">V</text></g>
<g id="r352" class="L" transform="translate(66.17,281.8)"><rect width="20.5" height="27"/><text x="10.25" y="18.5">A</text></g>
<g id="r353" class="L" transform="translate(88.34,281.8)"><rect width="20.5" height="27"/><text x="10.25" y="18.5">D</text></g>
<g id="r354" class="L" transform="translate(110.51,281.8)"><rect width="20.5" height="27"/><text x="10.25" y="18.5">L</text></g>
<g id="r355" class="E" transform="translate(132.68,281.8)"><rect width="20.5" height="27"/><text x="10.25" y="18.5">K</text></g>
<g id="r356" class="E" transform="translate(154.85,281.8)"><rect width="20.5" height="27"/><text x="10.25" y="18.5">V</text></g>
<g id="r357" class="E" transform="translate(177.02,281.8)"><rect width="20.5" height="27"/><text x="10.25" y="18.5">V</text></g>
<g id="r358" class="E" transform="translate(199.19,281.8)"><rect width="20.5" height="27"/><text x="10.25" y="18.5">G</text></g>
<g id="r359" class="E" transform="translate(221.36,281.8)"><rect width="20.5" height="27"/><text x="10.25" y="18.5">F</text></g>
<g id="r360" class="E" transform="translate(243.53,281.8)"><rect width="20.5" height="27"/><text x="10.25" y="18.5">H</text></g>
<g id="r361" class="L" transform="translate(265.7,281.8)"><rect width="20.5" height="27"/><text x="10.25" y="18.5">N</text></g>
<g id="r362" class="L" transform="translate(287.87,281.8)"><rect width="20.5" height="27"/><text x="10.25" y="18.5">L</text></g>
<g id="r363" class="L" transform="translate(310.04,281.8)"><rect width="20.5" height="27"/><text x="10.25" y="18.5">G</text></g>
<g id="r364" class="L" transform="translate(332.21,281.8)"><rect width="20.5" height="27"/><text x="10.25" y="18.5">G</text></g>
<g id="r365" class="L" transform="translate(354.38,281.8)"><rect width="20.5" height="27"/><text x="10.25" y="18.5">K</text></g>
<g id="r366" class="L" transform="translate(376.55,281.8)"><rect width="20.5" height="27"/><text x="10.25" y="18.5">G</text></g>
<g id="r367" class="L" transform="translate(398.72,281.8)"><rect width="20.5" height="27"/><text x="10.25" y="18.5">E</text></g>
<g id="r368" class="L" transform="translate(420.89,281.8)"><rect width="20.5" height="27"/><text x="10.25" y="18.5">N</text></g>
<g id="r369" class="L" transform="translate(443.06,281.8)"><rect width="20.5" height="27"/><text x="10.25" y="18.5">Y</text></g>
<g id="r370" class="L" transform="translate(465.23,281.8)"><rect width="20.5" height="27"/><text x="10.25" y="18.5">F</text></g>
<g id="r371" class="L" transform="translate(487.4,281.8)"><rect width="20.5" height="27"/><text x="10.25" y="18.5">T</text></g>
<g id="r372" class="L" transform="translate(509.57,281.8)"><rect width="20.5" height="27"/><text x="10.25" y="18.5">P</text></g>
<g id="r373" class="E" transform="translate(531.74,281.8)"><rect width="20.5" height="27"/><text x="10.25" y="18.5">I</text></g>
<g id="r374" class="E" transform="translate(553.91,281.8)"><rect width="20.5" height="27"/><text x="10.25" y="18.5">T</text></g>
<g id="r375" class="H" transform="translate(576.08,281.8)"><rect width="20.5" height="27"/><text x="10.25" y="18.5">V</text></g>
<g id="r376" class="H" transform="translate(598.25,281.8)"><rect width="20.5" height="27"/><text x="10.25" y="18.5">E</text></g>
<g id="r377" class="H" transform="translate(620.42,281.8)"><rect width="20.5" height="27"/><text x="10.25" y="18.5">V</text></g>
<g id="r378" class="H" transform="translate(642.59,281.8)"><rect width="20.5" height="27"/><text x="10.25" y="18.5">M</text></g>
<g id="r379" class="H" transform="translate(664.76,281.8)"><rect width="20.5" height="27"/><text x="10.25" y="18.5">D</text></g>
<g id="r380" class="H" transform="translate(686.93,281.8)"><rect width="20.5" height="27"/><text x="10.25" y="18.5">F</text></g>
<g id="r381" class="H" transform="translate(709.1,281.8)"><rect width="20.5" height="27"/><text x="10.25" y="18.5">L</text></g>
<g id="r382" class="H" transform="translate(731.27,281.8)"><rect width="20.5" height="27"/><text x="10.25" y="18.5">A</text></g>
<g id="r383" class="H" transform="translate(753.44,281.8)"><rect width="20.5" height="27"/><text x="10.25" y="18.5">E</text></g>
<g id="r384" class="H" transform="translate(775.61,281.8)"><rect width="20.5" height="27"/><text x="10.25" y="18.5">K</text></g>
<g id="r385" class="L" transform="translate(797.78,281.8)"><rect width="20.5" height="27"/><text x="10.25" y="18.5">S</text></g>
<g id="r386" class="L" transform="translate(819.95,281.8)"><rect width="20.5" height="27"/><text x="10.25" y="18.5">V</text></g>
<g id="r387" class="L" transform="translate(842.12,281.8)"><rect width="20.5" height="27"/><text x="10.25" y="18.5">T</text></g>
<g id="r388" class="L" transform="translate(864.29,281.8)"><rect width="20.5" height="27"/><text x="10.25" y="18.5">P</text></g>
<g id="r389" class="L" transform="translate(886.46,281.8)"><rect width="20.5" height="27"/><text x="10.25" y="18.5">L</text></g>
<g id="r390" class="L" transform="translate(908.63,281.8)"><rect width="20.5" height="27"/><text x="10.25" y="18.5">V</text></g>
<g id="r391" class="L" transform="translate(930.8,281.8)"><rect width="20.5" height="27"/><text x="10.25" y="18.5">P</text></g>
<g id="r392" class="L" transform="translate(952.97,281.8)"><rect width="20.5" height="27"/><text x="10.25" y="18.5">W</text></g>
<g id="r393" class="L" transform="translate(975.14,281.8)"><rect width="20.5" height="27"/><text x="10.25" y="18.5">K</text></g>
<g id="r394" class="L" transform="translate(997.31,281.8)"><rect width="20.5" height="27"/><text x="10.25" y="18.5">F</text></g>
<g id="r395" class="L" transform="translate(1019.48,281.8)"><rect width="20.5" height="27"/><text x="10.25" y="18.5">S</text></g>
<g id="r396" class="L" transform="translate(1041.65,281.8)"><rect width="20.5" height="27"/><text x="10.25" y="18.5">D</text></g>
<g id="r397" class="L" transform="translate(1063.82,281.8)"><rect width="20.5" height="27"/><text x="10.25" y="18.5">E</text></g>
<g id="r398" class="E" transform="translate(1085.99,281.8)"><rect width="20.5" height="27"/><text x="10.25" y="18.5">Q</text></g>
<g id="r399" class="E" transform="translate(1108.16,281.8)"><rect width="20.5" height="27"/><text x="10.25" y="18.5">V</text></g>
<g id="r400" class="E" transform="translate(1130.33,281.8)"><rect width="20.5" height="27"/><text x="10.25" y="18.5">D</text></g>

<g id="r401" class="E" transform="translate(44,315.2)"><rect width="20.5" height="27"/><text x="10.25" y="18.5">L</text></g>
<g id="r402" class="L" transform="translate(66.17,315.2)"><rect width="20.5" height="27"/><text x="10.25" y="18.5">C</text></g>
<g id="r403" class="L" transform="translate(88.34,315.2)"><rect width="20.5" height="27"/><text x="10.25" y="18.5">G</text></g>
<g id="r404" class="E" transform="translate(110.51,315.2)"><rect width="20.5" height="27"/><text x="10.25" y="18.5">L</text></g>
<g id="r405" class="E" transform="translate(132.68,315.2)"><rect width="20.5" height="27"/><text x="10.25" y="18.5">I</text></g>
<g id="r406" class="E" transform="translate(154.85,315.2)"><rect width="20.5" height="27"/><text x="10.25" y="18.5">A</text></g>
<g id="r407" class="E" transform="translate(177.02,315.2)"><rect width="20.5" height="27"/><text x="10.25" y="18.5">A</text></g>
<g id="r408" class="L" transform="translate(199.19,315.2)"><rect width="20.5" height="27"/><text x="10.25" y="18.5">N</text></g>
<g id="r409" class="L" transform="translate(221.36,315.2)"><rect width="20.5" height="27"/><text x="10.25" y="18.5">G</text></g>
<g id="r410" class="L" transform="translate(243.53,315.2)"><rect width="20.5" height="27"/><text x="10.25" y="18.5">A</text></g>
<g id="r411" class="L" transform="translate(265.7,315.2)"><rect width="20.5" height="27"/><text x="10.25" y="18.5">D</text></g>
<g id="r412" class="L" transform="translate(287.87,315.2)"><rect width="20.5" height="27"/><text x="10.25" y="18.5">K</text></g>
<g id="r413" class="L" transform="translate(310.04,315.2)"><rect width="20.5" height="27"/><text x="10.25" y="18.5">Y</text></g>
<g id="r414" class="L" transform="translate(332.21,315.2)"><rect width="20.5" height="27"/><text x="10.25" y="18.5">P</text></g>
<g id="r415" class="L" transform="translate(354.38,315.2)"><rect width="20.5" height="27"/><text x="10.25" y="18.5">F</text></g>
<g id="r416" class="E" transform="translate(376.55,315.2)"><rect width="20.5" height="27"/><text x="10.25" y="18.5">T</text></g>
<g id="r417" class="E" transform="translate(398.72,315.2)"><rect width="20.5" height="27"/><text x="10.25" y="18.5">K</text></g>
<g id="r418" class="E" transform="translate(420.89,315.2)"><rect width="20.5" height="27"/><text x="10.25" y="18.5">T</text></g>
<g id="r419" class="H" transform="translate(443.06,315.2)"><rect width="20.5" height="27"/><text x="10.25" y="18.5">I</text></g>
<g id="r420" class="H" transform="translate(465.23,315.2)"><rect width="20.5" height="27"/><text x="10.25" y="18.5">S</text></g>
<g id="r421" class="H" transform="translate(487.4,315.2)"><rect width="20.5" height="27"/><text x="10.25" y="18.5">D</text></g>
<g id="r422" class="H" transform="translate(509.57,315.2)"><rect width="20.5" height="27"/><text x="10.25" y="18.5">L</text></g>
<g id="r423" class="H" transform="translate(531.74,315.2)"><rect width="20.5" height="27"/><text x="10.25" y="18.5">V</text></g>
<g id="r424" class="L" transform="translate(553.91,315.2)"><rect width="20.5" height="27"/><text x="10.25" y="18.5">S</text></g>
<g id="r425" class="L" transform="translate(576.08,315.2)"><rect width="20.5" height="27"/><text x="10.25" y="18.5">W</text></g>
<g id="r426" class="L" transform="translate(598.25,315.2)"><rect width="20.5" height="27"/><text x="10.25" y="18.5">Q</text></g>
</g>
<g id="row-labels">
<text class="num ln" x="34" y="66.5">1</text>
<text class="num ln" x="34" y="99.9">51</text>
<text class="num ln" x="34" y="133.3">101</text>
<text class="num ln" x="34" y="166.7">151</text>
<text class="num ln" x="34" y="200.1">201</text>
<text class="num ln" x="34" y="233.5">251</text>
<text class="num ln" x="34" y="266.9">301</text>
<text class="num ln" x="34" y="300.3">351</text>
<text class="num ln" x="34" y="333.7">401</text>
<text class="num" x="1163" y="66.5">50</text>
<text class="num" x="1163" y="99.9">100</text>
<text class="num" x="1163" y="133.3">150</text>
<text class="num" x="1163" y="166.7">200</text>
<text class="num" x="1163" y="200.1">250</text>
<text class="num" x="1163" y="233.5">300</text>
<text class="num" x="1163" y="266.9">350</text>
<text class="num" x="1163" y="300.3">400</text>
<text class="num" x="1163" y="333.7">426</text>
</g>
<g id="axis-top">
<text class="num cn" x="253.8" y="28">10</text>
<text class="num cn" x="475.5" y="28">20</text>
<text class="num cn" x="697.2" y="28">30</text>
<text class="num cn" x="918.9" y="28">40</text>
<text class="num cn" x="1140.6" y="28">50</text>
</g>
<g id="axis-bottom">
<text class="num cn" x="253.8" y="370">10</text>
<text class="num cn" x="475.5" y="370">20</text>
<text class="num cn" x="697.2" y="370">30</text>
<text class="num cn" x="918.9" y="370">40</text>
<text class="num cn" x="1140.6" y="370">50</text>
</g>
<g id="legend-loop"><rect x="135" y="422" width="27" height="32" fill="#bdbdbd"/><text class="lg" transform="translate(175,448) scale(1,1.3)">Loop</text></g>
<g id="legend-helix"><rect x="498" y="425" width="27" height="29" fill="#f77ccb"/><text class="lg" transform="translate(538,449) scale(1,1.3)">Helix</text></g>
<g id="legend-strand"><rect x="923" y="419" width="27" height="28" fill="#f8d158"/><text class="lg" transform="translate(963,446) scale(1,1.3)">Strand</text></g>
</svg>
